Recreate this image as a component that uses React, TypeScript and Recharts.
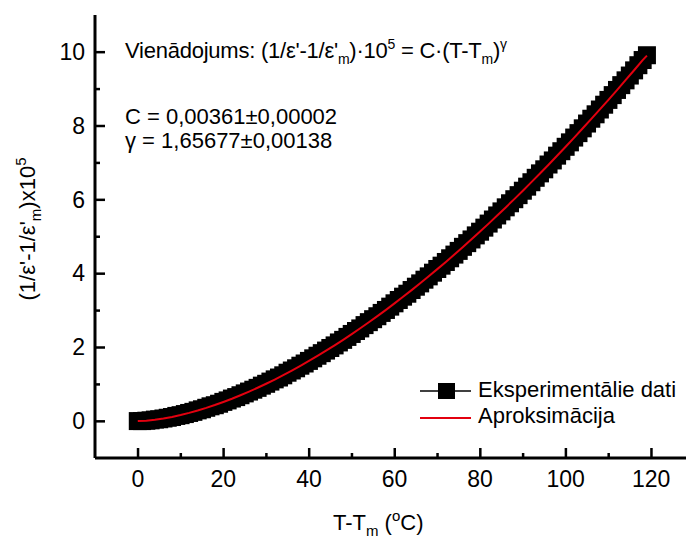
import { ComposedChart, Scatter, XAxis, YAxis, Legend } from "recharts";

// T - Tm (°C), experimental points
const expT = [
  0, 1, 2, 3, 4, 5, 6, 7, 8, 9, 10, 11, 12, 13, 14, 15, 16, 17, 18, 19,
  20, 21, 22, 23, 24, 25, 26, 27, 28, 29, 30, 31, 32, 33, 34, 35, 36, 37, 38, 39,
  40, 41, 42, 43, 44, 45, 46, 47, 48, 49, 50, 51, 52, 53, 54, 55, 56, 57, 58, 59,
  60, 61, 62, 63, 64, 65, 66, 67, 68, 69, 70, 71, 72, 73, 74, 75, 76, 77, 78, 79,
  80, 81, 82, 83, 84, 85, 86, 87, 88, 89, 90, 91, 92, 93, 94, 95, 96, 97, 98, 99,
  100, 101, 102, 103, 104, 105, 106, 107, 108, 109, 110, 111, 112, 113, 114, 115, 116, 117, 118, 119,
];

// (1/e' - 1/e'm) x 1e5
const expY = [
  0.0, 0.0, 0.01, 0.02, 0.04, 0.05, 0.07, 0.09, 0.11, 0.14, 0.16, 0.19, 0.22, 0.25, 0.29, 0.32, 0.36, 0.4, 0.43, 0.47,
  0.52, 0.56, 0.61, 0.65, 0.7, 0.75, 0.8, 0.85, 0.9, 0.96, 1.01, 1.07, 1.13, 1.18, 1.24, 1.31, 1.37, 1.43, 1.5, 1.56,
  1.63, 1.7, 1.77, 1.84, 1.91, 1.98, 2.05, 2.13, 2.2, 2.28, 2.36, 2.44, 2.51, 2.6, 2.68, 2.76, 2.84, 2.93, 3.01, 3.1,
  3.19, 3.28, 3.37, 3.45, 3.55, 3.64, 3.73, 3.83, 3.92, 4.02, 4.12, 4.21, 4.31, 4.41, 4.51, 4.61, 4.72, 4.82, 4.92, 5.03,
  5.13, 5.24, 5.35, 5.46, 5.57, 5.68, 5.79, 5.9, 6.01, 6.12, 6.24, 6.35, 6.47, 6.59, 6.71, 6.82, 6.95, 7.06, 7.19, 7.31,
  7.43, 7.55, 7.68, 7.8, 7.93, 8.06, 8.19, 8.31, 8.44, 8.57, 8.7, 8.83, 8.97, 9.1, 9.23, 9.36, 9.5, 9.64, 9.78, 9.91,
];

// fitted curve C·(T-Tm)^γ
const fitT = [
  0, 2, 4, 6, 8, 10, 12, 14, 16, 18, 20, 22, 24, 26, 28, 30, 32, 34, 36, 38,
  40, 42, 44, 46, 48, 50, 52, 54, 56, 58, 60, 62, 64, 66, 68, 70, 72, 74, 76, 78,
  80, 82, 84, 86, 88, 90, 92, 94, 96, 98, 100, 102, 104, 106, 108, 110, 112, 114, 116, 118, 119,
];
const fitY = [
  0.0, 0.011, 0.036, 0.07, 0.113, 0.164, 0.222, 0.286, 0.357, 0.434, 0.517, 0.605, 0.699, 0.798, 0.902, 1.011, 1.125, 1.244, 1.368, 1.496,
  1.628, 1.765, 1.906, 2.052, 2.202, 2.356, 2.514, 2.677, 2.844, 3.013, 3.188, 3.366, 3.548, 3.734, 3.923, 4.116, 4.312, 4.513, 4.716, 4.923,
  5.134, 5.349, 5.567, 5.788, 6.012, 6.241, 6.472, 6.708, 6.945, 7.188, 7.432, 7.68, 7.931, 8.185, 8.442, 8.703, 8.967, 9.234, 9.504, 9.777, 9.9,
];

const xTicks = [0, 10, 20, 30, 40, 50, 60, 70, 80, 90, 100, 110, 120];
const yTicks = [0, 1, 2, 3, 4, 5, 6, 7, 8, 9, 10];

const expData = expT.map((t, i) => ({ t, y: expY[i] }));
const fitData = fitT.map((t, i) => ({ t, y: fitY[i] }));

const FONT = "'Liberation Sans', Arial, sans-serif";
const INK = "#000";
const RED = "#e3000f";
const SQ = 18;

function XTick(props: any) {
  const { x, y, payload } = props;
  const major = payload.value % 20 === 0;
  return (
    <g>
      <rect x={x - 1} y={y - (major ? 10 : 5)} width={2.5} height={major ? 10 : 5} fill={INK} />
      {major && (
        <text x={x} y={y + 29} textAnchor="middle" fontSize={23} fontFamily={FONT} fill={INK}>
          {payload.value}
        </text>
      )}
    </g>
  );
}

function YTick(props: any) {
  const { x, y, payload } = props;
  const major = payload.value % 2 === 0;
  return (
    <g>
      <rect x={x} y={y - 1} width={major ? 10 : 5} height={2.5} fill={INK} />
      {major && (
        <text x={x - 10} y={y + 8} textAnchor="end" fontSize={23} fontFamily={FONT} fill={INK}>
          {payload.value}
        </text>
      )}
    </g>
  );
}

function renderLegend() {
  return (
    <svg width={270} height={60} style={{ display: "block" }}>
      <line x1={2} x2={53} y1={15} y2={15} stroke={INK} strokeWidth={1.5} />
      <rect x={20} y={7} width={17} height={16} fill={INK} />
      <text x={60} y={21} fontSize={22} fontFamily={FONT} fill={INK}>Eksperimentālie dati</text>
      <line x1={2} x2={53} y1={42} y2={42} stroke={RED} strokeWidth={2} />
      <text x={60} y={47} fontSize={22} fontFamily={FONT} fill={INK}>Aproksimācija</text>
    </svg>
  );
}

export default function App() {
  return (
    <div style={{ position: "relative", width: 686, height: 539, overflow: "hidden", background: "#fff" }}>
      <style>{"body{margin:0}"}</style>
      <ComposedChart width={700} height={539} margin={{ top: 15, right: 6, left: 0, bottom: 0 }}>
        <XAxis
          dataKey="t"
          type="number"
          domain={[-10, 130]}
          ticks={xTicks}
          interval={0}
          height={81}
          tickSize={0}
          tickMargin={0}
          tickLine={false}
          tick={<XTick />}
          axisLine={{ stroke: INK, strokeWidth: 3, strokeOpacity: 1 }}
          allowDataOverflow
        />
        <XAxis
          xAxisId="top"
          orientation="top"
          type="number"
          domain={[-10, 130]}
          height={0}
          tick={false}
          tickLine={false}
          axisLine={{ stroke: INK, strokeWidth: 2.5 }}
        />
        <YAxis
          type="number"
          domain={[-1, 11]}
          ticks={yTicks}
          interval={0}
          width={95}
          tickSize={0}
          tickMargin={0}
          tickLine={false}
          tick={<YTick />}
          axisLine={{ stroke: INK, strokeWidth: 3, strokeOpacity: 1 }}
          allowDataOverflow
        />
        <Scatter
          data={expData}
          dataKey="y"
          isAnimationActive={false}
          shape={(p: any) => <rect x={p.cx - SQ / 2} y={p.cy - SQ / 2} width={SQ} height={SQ} fill={INK} />}
        />
        <Scatter
          data={fitData}
          dataKey="y"
          isAnimationActive={false}
          line={{ stroke: RED, strokeWidth: 2 }}
          lineType="joint"
          shape={() => <g />}
        />
        <Legend
          layout="vertical"
          align="center"
          verticalAlign="middle"
          content={renderLegend}
          wrapperStyle={{ position: "absolute", left: 418, top: 376, width: 270, height: 60 }}
        />
      </ComposedChart>

      <svg
        width={686}
        height={539}
        style={{ position: "absolute", left: 0, top: 0, pointerEvents: "none" }}
        fontFamily={FONT}
        fill={INK}
      >
        <text x={125} y={58} fontSize={22} textLength={382} lengthAdjust="spacing">
          Vienādojums: (1/ε'-1/ε'
          <tspan dy={6} fontSize={14}>m</tspan>
          <tspan dy={-6}>)·10</tspan>
          <tspan dy={-9} fontSize={14}>5</tspan>
          <tspan dy={9}> = C·(T-T</tspan>
          <tspan dy={6} fontSize={14}>m</tspan>
          <tspan dy={-6}>)</tspan>
          <tspan dy={-9} fontSize={14}>γ</tspan>
        </text>
        <text x={125} y={124} fontSize={22}>C = 0,00361±0,00002</text>
        <text x={125} y={148} fontSize={22}>γ = 1,65677±0,00138</text>

        <text x={333} y={530} fontSize={22}>
          T-T
          <tspan dy={6} fontSize={15}>m</tspan>
          <tspan dy={-6}> (</tspan>
          <tspan dy={-9} fontSize={15}>o</tspan>
          <tspan dy={9}>C)</tspan>
        </text>

        <text transform="translate(35,229) rotate(-90)" textAnchor="middle" fontSize={22}>
          (1/ε'-1/ε'
          <tspan dy={6} fontSize={15}>m</tspan>
          <tspan dy={-6}>)x10</tspan>
          <tspan dy={-9} fontSize={15}>5</tspan>
        </text>
      </svg>
    </div>
  );
}
